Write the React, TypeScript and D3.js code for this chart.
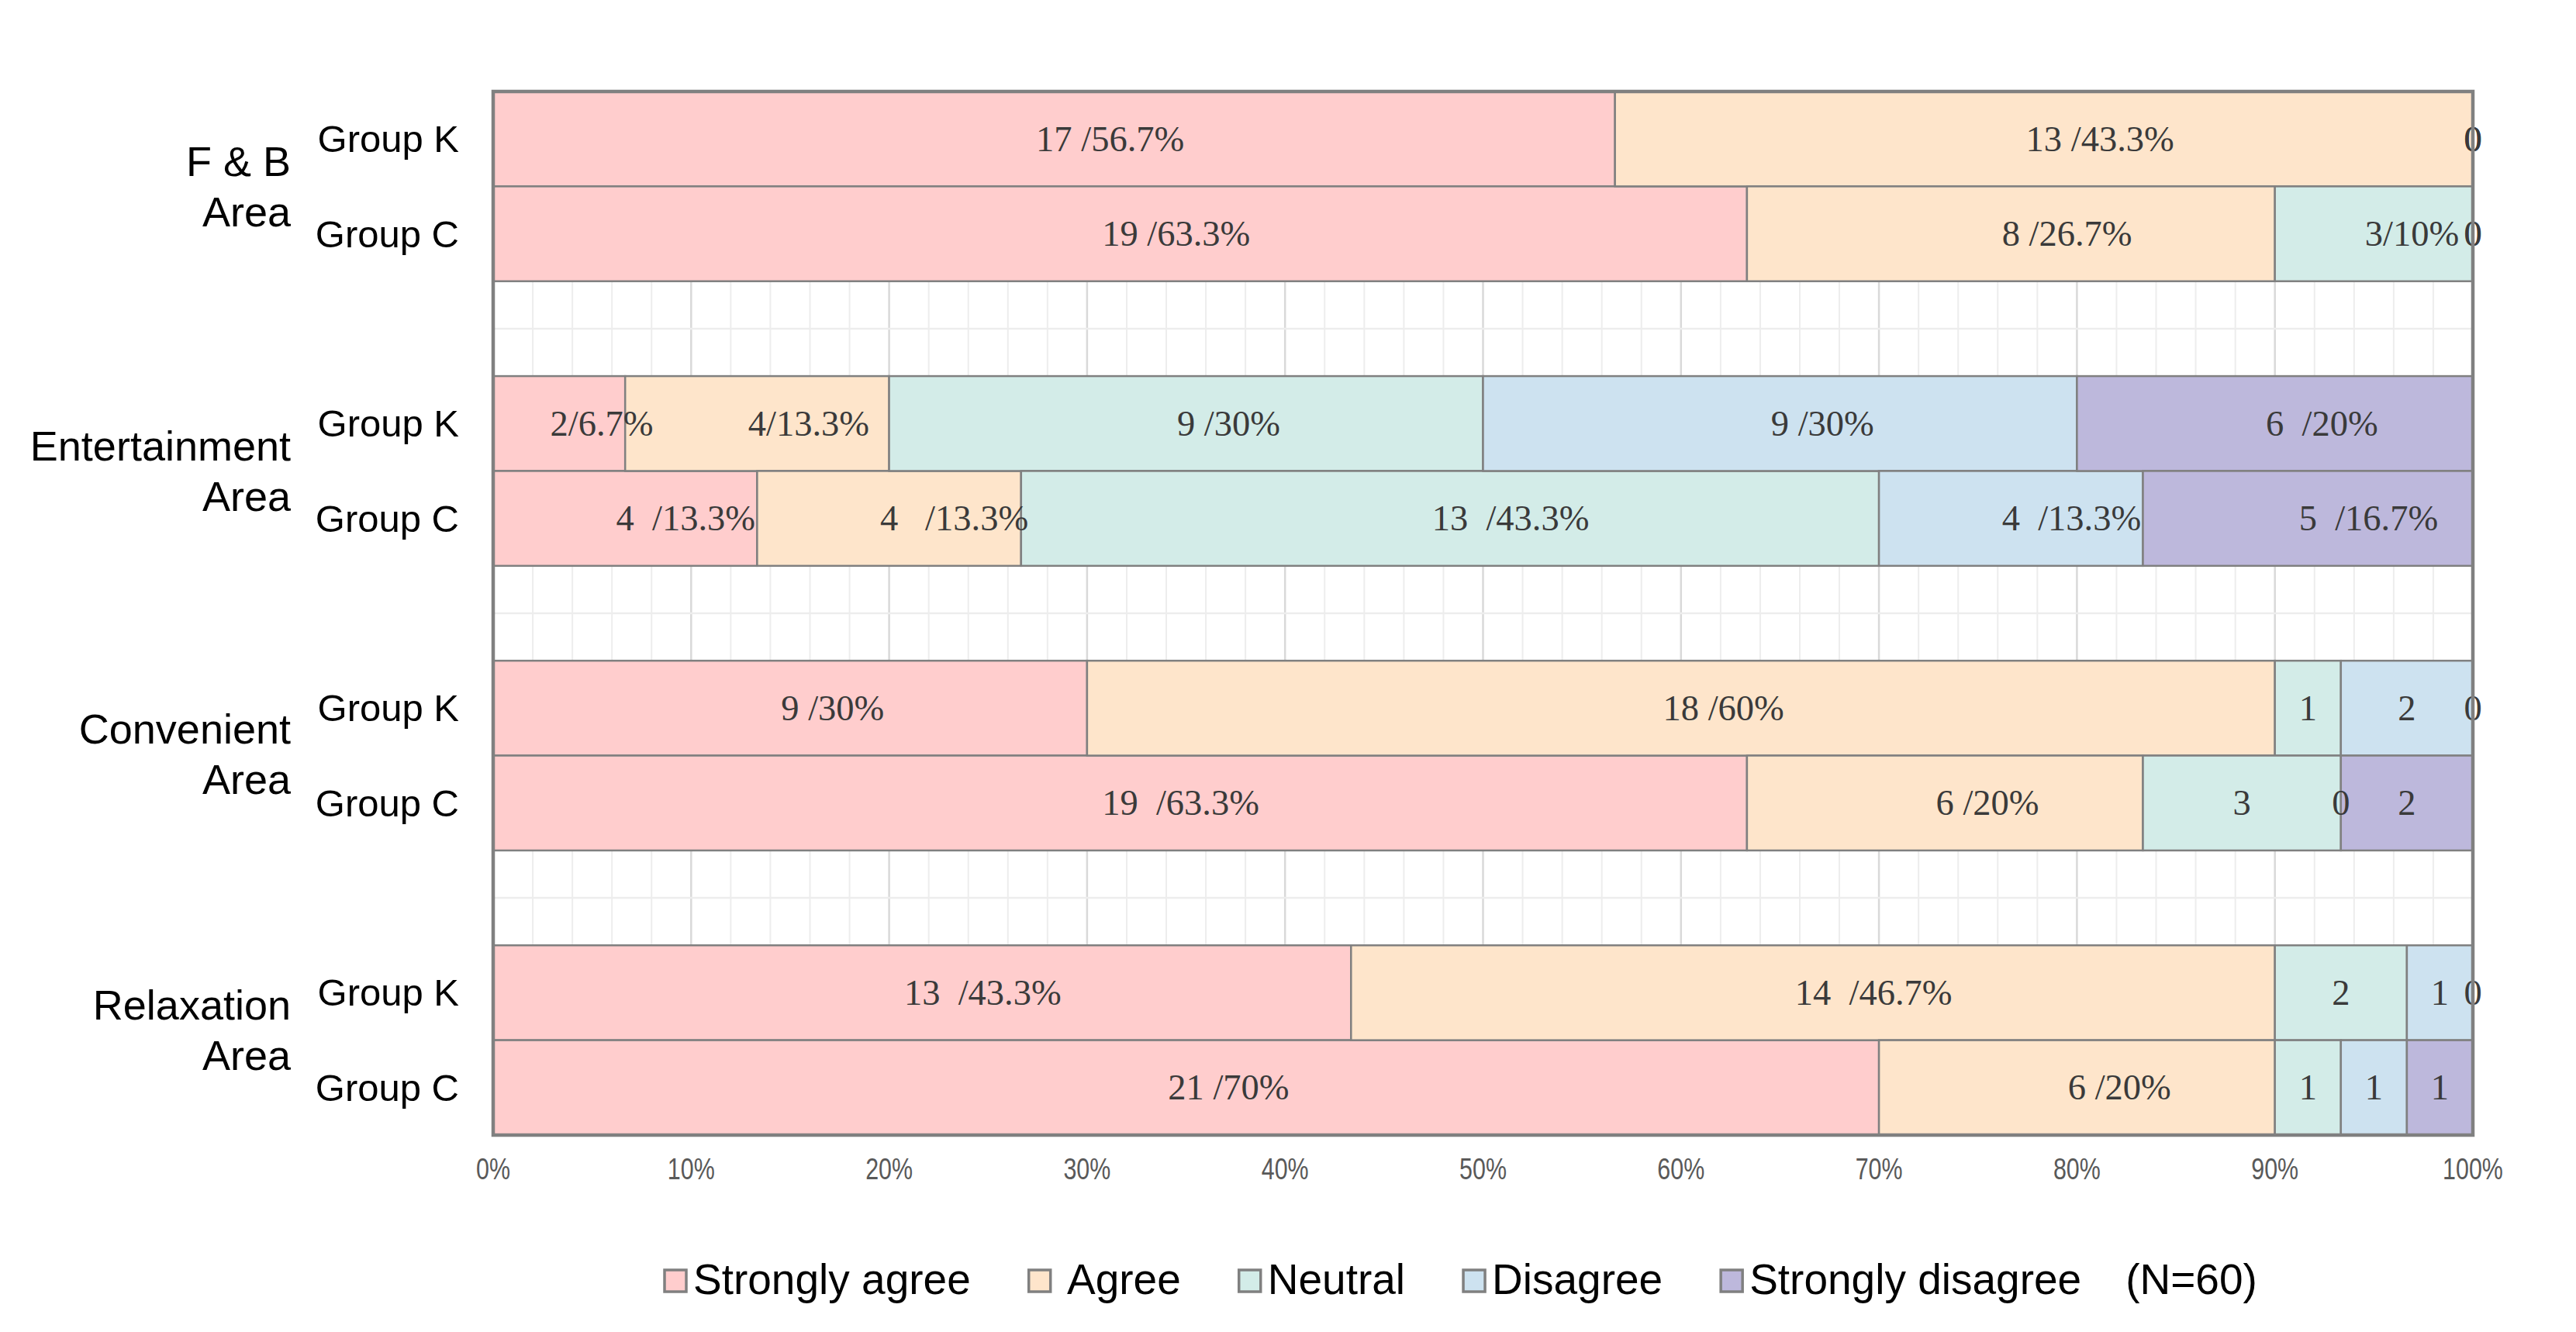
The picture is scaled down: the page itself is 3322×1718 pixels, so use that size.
import React, { useEffect, useRef } from "react";
import * as d3 from "d3";

// ---------- data ----------
const areas = ["F & B", "Entertainment", "Convenient", "Relaxation"];
const groups = ["Group K", "Group C"];
const seriesKeys = ["sa", "a", "n", "d", "sd"];
const legendLabels = ["Strongly agree", " Agree", "Neutral", "Disagree", "Strongly disagree"];
const seriesColors = ["#ffcdcd", "#fee5cb", "#d3ece8", "#cde2f0", "#bdb8dc"];
const sampleNote = "(N=60)";

// row order: F&B K, F&B C, Ent K, Ent C, Conv K, Conv C, Relax K, Relax C
const stronglyAgree = [17, 19, 2, 4, 9, 19, 13, 21];
const agree = [13, 8, 4, 4, 18, 6, 14, 6];
const neutral = [0, 3, 9, 13, 1, 3, 2, 1];
const disagree = [0, 0, 9, 4, 2, 0, 1, 1];
const stronglyDisagree = [0, 0, 6, 5, 0, 2, 0, 1];

// text that follows the count in each data label
const stronglyAgreeSuffix = [" /56.7%", " /63.3%", "/6.7%", "  /13.3%", " /30%", "  /63.3%", "  /43.3%", " /70%"];
const agreeSuffix = [" /43.3%", " /26.7%", "/13.3%", "   /13.3%", " /60%", " /20%", "  /46.7%", " /20%"];
const neutralSuffix = ["", "/10%", " /30%", "  /43.3%", "", "", "", ""];
const disagreeSuffix = ["", "", " /30%", "  /13.3%", "", "", "", ""];
const stronglyDisagreeSuffix = ["", "", "  /20%", "  /16.7%", "", "", "", ""];

const xTickValues = [0, 0.1, 0.2, 0.3, 0.4, 0.5, 0.6, 0.7, 0.8, 0.9, 1];

// ---------- layout ----------
const W = 3322;
const H = 1718;
const M = { left: 636, right: 3189, top: 118, bottom: 1464 };
const AREA_LABEL_SHIFT = [0, 0, -2, -13];

export default function App() {
  const ref = useRef<SVGSVGElement>(null);

  useEffect(() => {
    const svg = d3.select(ref.current);
    svg.selectAll("*").remove();

    const counts = [stronglyAgree, agree, neutral, disagree, stronglyDisagree];
    const suffixes = [stronglyAgreeSuffix, agreeSuffix, neutralSuffix, disagreeSuffix, stronglyDisagreeSuffix];

    const rows = d3.range(stronglyAgree.length).map((i) => {
      const r: any = { id: "r" + i, area: Math.floor(i / 2), group: groups[i % 2] };
      seriesKeys.forEach((k, s) => (r[k] = counts[s][i]));
      r.total = d3.sum(seriesKeys, (k) => r[k]);
      return r;
    });

    // band domain: rows with blank separators between areas
    const domain: string[] = [];
    areas.forEach((_, a) => {
      domain.push("r" + a * 2, "r" + (a * 2 + 1));
      if (a < areas.length - 1) domain.push("gap" + a);
    });

    const x = d3.scaleLinear().domain([0, 1]).range([M.left, M.right]);
    const y = d3.scaleBand<string>().domain(domain).range([M.top, M.bottom]).padding(0);

    const stack = d3
      .stack<any>()
      .keys(seriesKeys)
      .value((d, k) => d[k] / d.total);
    const stacked = stack(rows);

    // grid
    const grid = svg.append("g");
    const minor = d3.range(0, 51).map((i) => i * 0.02).filter((v, i) => i % 5 !== 0);
    grid
      .selectAll("line.minor")
      .data(minor)
      .join("line")
      .attr("x1", (d) => x(d))
      .attr("x2", (d) => x(d))
      .attr("y1", M.top)
      .attr("y2", M.bottom)
      .attr("stroke", "#ededed")
      .attr("stroke-width", 2);
    grid
      .selectAll("line.major")
      .data(xTickValues)
      .join("line")
      .attr("x1", (d) => x(d))
      .attr("x2", (d) => x(d))
      .attr("y1", M.top)
      .attr("y2", M.bottom)
      .attr("stroke", "#d9d9d9")
      .attr("stroke-width", 2.5);
    grid
      .selectAll("line.h")
      .data(domain.filter((d) => d.startsWith("gap")))
      .join("line")
      .attr("x1", M.left)
      .attr("x2", M.right)
      .attr("y1", (d) => y(d)! + y.bandwidth() / 2)
      .attr("y2", (d) => y(d)! + y.bandwidth() / 2)
      .attr("stroke", "#ededed")
      .attr("stroke-width", 2.5);

    // bars
    const bars = svg.append("g");
    stacked.forEach((layer, s) => {
      bars
        .append("g")
        .selectAll("rect")
        .data(layer)
        .join("rect")
        .attr("x", (d) => x(d[0]))
        .attr("width", (d) => x(d[1]) - x(d[0]))
        .attr("y", (d) => y(d.data.id)!)
        .attr("height", y.bandwidth())
        .attr("fill", seriesColors[s])
        .attr("stroke", "#808080")
        .attr("stroke-width", 2.5);
    });

    // data labels: the count is centred on its segment, the suffix follows it
    const lab = svg
      .append("g")
      .attr("font-family", "'Liberation Serif', 'Times New Roman', serif")
      .attr("font-size", 46.5)
      .attr("fill", "#3a3a3a");
    const probe = lab.append("text").attr("visibility", "hidden");
    const countWidth = (n: number) => {
      probe.text(String(n));
      return (probe.node() as SVGTextElement).getComputedTextLength();
    };
    stacked.forEach((layer, s) => {
      layer.forEach((d, i) => {
        const c = counts[s][i];
        const cxm = (x(d[0]) + x(d[1])) / 2;
        lab
          .append("text")
          .attr("x", cxm - countWidth(c) / 2)
          .attr("y", y(d.data.id)! + y.bandwidth() / 2 + 15.5)
          .style("white-space", "pre")
          .text(String(c) + suffixes[s][i]);
      });
    });
    probe.remove();

    // frame
    svg
      .append("rect")
      .attr("x", M.left)
      .attr("y", M.top)
      .attr("width", M.right - M.left)
      .attr("height", M.bottom - M.top)
      .attr("fill", "none")
      .attr("stroke", "#808080")
      .attr("stroke-width", 4.5);

    // x tick labels
    const ticks = svg.append("g").attr("font-family", "'Liberation Sans', Arial, sans-serif").attr("font-size", 39).attr("fill", "#595959");
    ticks
      .selectAll("text")
      .data(xTickValues)
      .join("text")
      .attr("transform", (d) => `translate(${x(d)},1521) scale(0.78,1)`)
      .attr("text-anchor", "middle")
      .text((d) => d3.format(".0%")(d));

    // group labels
    const yl = svg.append("g").attr("font-family", "'Liberation Sans', Arial, sans-serif").attr("fill", "#000");
    yl.selectAll("text.grp")
      .data(rows)
      .join("text")
      .attr("x", 592)
      .attr("y", (d) => y(d.id)! + y.bandwidth() / 2 + 17)
      .attr("text-anchor", "end")
      .attr("font-size", 49)
      .text((d) => d.group);

    // area labels
    areas.forEach((a, i) => {
      const c = (y("r" + i * 2)! + y("r" + (i * 2 + 1))! + y.bandwidth()) / 2 + AREA_LABEL_SHIFT[i];
      const t = yl.append("text").attr("text-anchor", "end").attr("font-size", 54);
      [a, "Area"].forEach((line, j) => {
        t.append("tspan")
          .attr("x", 375)
          .attr("y", c + (j === 0 ? -32.5 : 32.5) + 19)
          .text(line);
      });
    });

    // legend
    const lg = svg.append("g").attr("font-family", "'Liberation Sans', Arial, sans-serif").attr("font-size", 55).attr("fill", "#000");
    let cx = 857;
    legendLabels.forEach((name, i) => {
      lg.append("rect")
        .attr("x", cx)
        .attr("y", 1638)
        .attr("width", 28)
        .attr("height", 28)
        .attr("fill", seriesColors[i])
        .attr("stroke", "#808080")
        .attr("stroke-width", 3.5);
      const t = lg
        .append("text")
        .attr("x", cx + 37)
        .attr("y", 1669)
        .style("white-space", "pre")
        .text(name);
      const w = (t.node() as SVGTextElement).getComputedTextLength();
      cx = cx + 37 + w + 75;
    });
    lg.append("text")
      .attr("x", cx - 18)
      .attr("y", 1669)
      .text(sampleNote);
  }, []);

  return (
    <svg
      ref={ref}
      width={W}
      height={H}
      style={{ position: "absolute", left: 0, top: 0, background: "#fff" }}
    />
  );
}
